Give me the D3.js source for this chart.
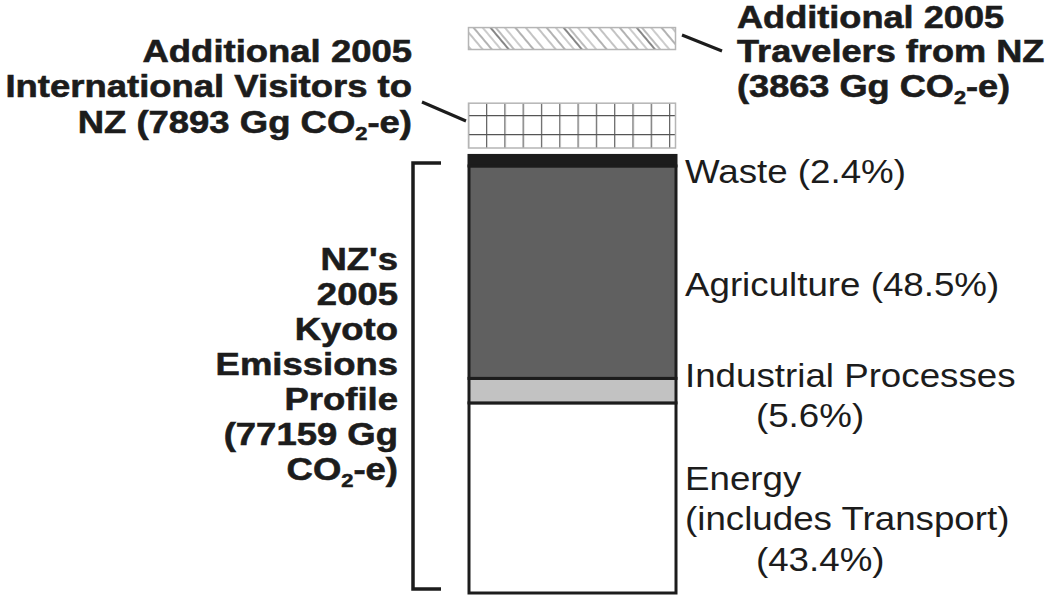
<!DOCTYPE html>
<html>
<head>
<meta charset="utf-8">
<script src="https://cdn.jsdelivr.net/npm/d3@7"></script>
<style>
  body { margin: 0; background: #fff; }
  text { font-family: "Liberation Sans", Arial, sans-serif; fill: #1c1c1c; }
</style>
</head>
<body>
<div id="chart"></div>
<script>
const W = 1048, H = 596;

// Kyoto profile, stacked bottom to top
const sectors = ["Energy", "Industrial Processes", "Agriculture", "Waste"];
const sectorShares = [43.4, 5.6, 48.5, 2.4];
const sectorColors = ["#ffffff", "#c2c2c2", "#606060", "#1c1c1c"];
const kyotoTotal = 77159;

// additional travel emissions (Gg CO2-e)
const extraNames = ["visitors", "travelers"];
const extraValues = [7893, 3863];

// label lines per sector; second item = indent in px
const sectorLabels = [
    [["Energy", 0], ["(includes Transport)", 0], ["(43.4%)", 71]],
    [["Industrial Processes", 0], ["(5.6%)", 71]],
    [["Agriculture (48.5%)", 0]],
    [["Waste (2.4%)", 0]]
];

const svg = d3.select("#chart").append("svg")
    .attr("width", W)
    .attr("height", H);

const y = d3.scaleLinear().domain([0, kyotoTotal]).range([0, 438]);
const barX = 469, barW = 207, baseY = 593;

const defs = svg.append("defs");

// diagonal hatch, slightly irregular
const hatch = defs.append("pattern")
    .attr("id", "hatch")
    .attr("patternUnits", "userSpaceOnUse")
    .attr("width", 56).attr("height", 56)
    .attr("patternTransform", "rotate(-40)");
[[2, "#888", 1], [9, "#666", 1], [16, "#999", 1], [22, "#444", 1.3], [26, "#777", 1], [33, "#999", 1], [41, "#666", 1], [49, "#888", 1]].forEach(([x, c, w]) => {
    hatch.append("line")
        .attr("x1", x).attr("x2", x).attr("y1", 0).attr("y2", 56)
        .attr("stroke", c).attr("stroke-width", w);
});

const grid = defs.append("pattern")
    .attr("id", "grid")
    .attr("patternUnits", "userSpaceOnUse")
    .attr("x", 486).attr("y", 115)
    .attr("width", 18.3).attr("height", 19);
grid.append("rect").attr("width", 18.3).attr("height", 19).attr("fill", "#fff");
grid.append("line").attr("x1", 0.6).attr("x2", 0.6).attr("y1", 0).attr("y2", 19)
    .attr("stroke", "#666").attr("stroke-width", 1.3);
grid.append("line").attr("x1", 0).attr("x2", 18.3).attr("y1", 0.6).attr("y2", 0.6)
    .attr("stroke", "#555").attr("stroke-width", 1.3);

// main stacked bar
let cum = 0;
const stack = sectorShares.map((s, i) => {
    const v = s / 100 * kyotoTotal;
    const d = { name: sectors[i], y0: cum, y1: cum + v, color: sectorColors[i], labels: sectorLabels[i] };
    cum += v;
    return d;
});

svg.selectAll(".seg")
    .data(stack)
    .enter().append("rect")
    .attr("class", "seg")
    .attr("x", barX)
    .attr("width", barW)
    .attr("y", d => baseY - y(d.y1))
    .attr("height", d => y(d.y1) - y(d.y0))
    .attr("fill", d => d.color)
    .attr("stroke", "#1c1c1c")
    .attr("stroke-width", 3);

// extra bars above
const gridBottom = 148, hatchBottom = 49.5;
svg.append("rect")
    .attr("x", barX - 0.5).attr("width", barW)
    .attr("y", gridBottom - y(extraValues[0]))
    .attr("height", y(extraValues[0]))
    .attr("fill", "url(#grid)")
    .attr("stroke", "#b5b5b5").attr("stroke-width", 1.5);

svg.append("rect")
    .attr("x", barX - 0.5).attr("width", barW)
    .attr("y", hatchBottom - y(extraValues[1]))
    .attr("height", y(extraValues[1]))
    .attr("fill", "url(#hatch)")
    .attr("stroke", "#b5b5b5").attr("stroke-width", 1.5);

// bracket
svg.append("path")
    .attr("d", "M441,163 H413 V589 H441")
    .attr("fill", "none")
    .attr("stroke", "#1c1c1c")
    .attr("stroke-width", 3.5);

// leader lines
svg.append("line").attr("x1", 682).attr("y1", 35).attr("x2", 722).attr("y2", 51)
    .attr("stroke", "#1c1c1c").attr("stroke-width", 3);
svg.append("line").attr("x1", 422).attr("y1", 102).attr("x2", 466).attr("y2", 121)
    .attr("stroke", "#1c1c1c").attr("stroke-width", 3);

// text helper: lines with optional CO2 subscript
function addLines(x, y0, step, lines, opts) {
    const g = svg.append("g")
        .attr("transform", `translate(${x},0) scale(${opts.sx},1)`);
    lines.forEach((item, i) => {
        const line = Array.isArray(item) ? item[0] : item;
        const indent = Array.isArray(item) ? item[1] : 0;
        const t = g.append("text")
            .attr("x", indent / opts.sx)
            .attr("y", y0 + i * step)
            .attr("text-anchor", opts.anchor)
            .attr("font-size", opts.size)
            .attr("font-weight", opts.weight)
            .style("stroke", opts.weight === "bold" ? "#1c1c1c" : "none")
            .style("stroke-width", 0.6);
        const parts = line.split("CO2");
        if (parts.length === 1) {
            t.text(line);
        } else {
            t.append("tspan").text(parts[0] + "CO");
            t.append("tspan").attr("font-size", opts.size * 0.6).attr("dy", 7).text("2");
            t.append("tspan").attr("dy", -7).text(parts[1]);
        }
    });
}

const bold = { sx: 1.14, size: 32, weight: "bold", anchor: "end" };
addLines(412, 62, 35.5, ["Additional 2005", "International Visitors to", "NZ (" + extraValues[0] + " Gg CO2-e)"], bold);
addLines(398, 270, 35, ["NZ's", "2005", "Kyoto", "Emissions", "Profile", "(" + kyotoTotal + " Gg", "CO2-e)"], bold);
addLines(737, 28, 34.5, ["Additional 2005", "Travelers from NZ", "(" + extraValues[1] + " Gg CO2-e)"],
    { sx: 1.13, size: 32, weight: "bold", anchor: "start" });

const reg = { sx: 1.08, size: 34, weight: "normal", anchor: "start" };
const labelY = { "Energy": 490, "Industrial Processes": 387, "Agriculture": 296, "Waste": 183 };
const labelStep = { "Energy": 40.5, "Industrial Processes": 40 };
stack.forEach(d => {
    addLines(685, labelY[d.name], labelStep[d.name] || 40, d.labels, reg);
});
</script>
</body>
</html>
